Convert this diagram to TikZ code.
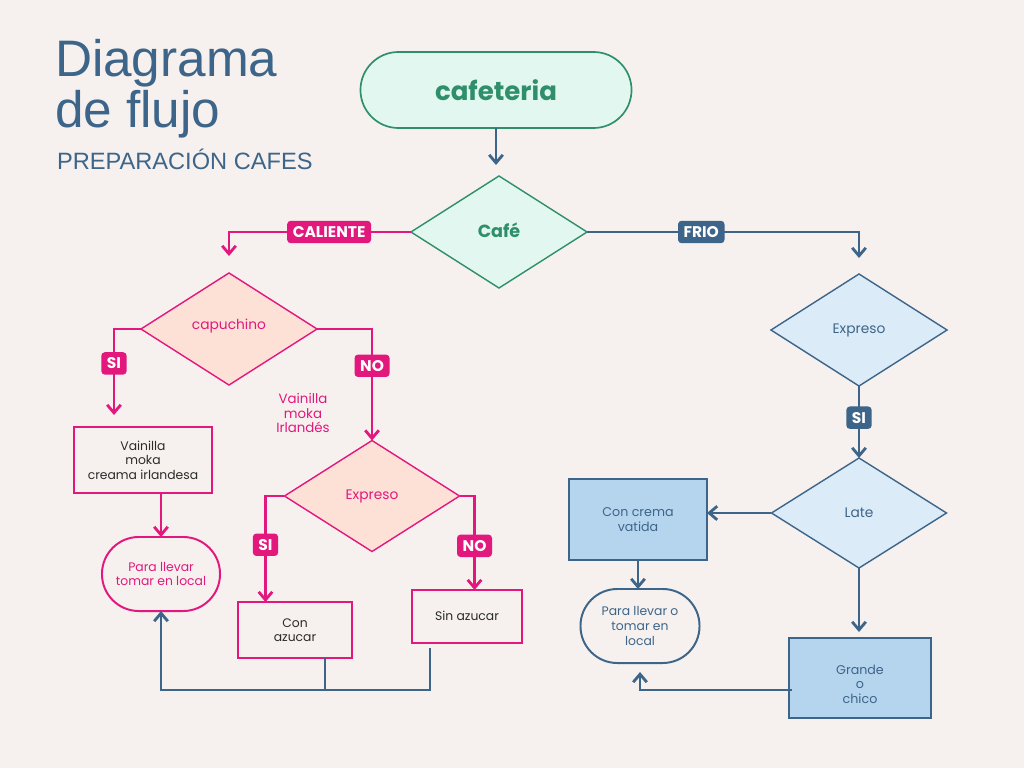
\documentclass[tikz,border=0pt]{standalone}
\usepackage{fontspec}
\setmainfont{Poppins}
\newfontfamily\titlefont{Liberation Sans}
\usetikzlibrary{arrows.meta,shapes.geometric}
\newcommand{\cmp}[2]{\begin{minipage}[h]{#1}\centering #2\end{minipage}}
\definecolor{paper}{HTML}{F6F1EE}
\definecolor{inkblue}{HTML}{3D6589}
\definecolor{hotpink}{HTML}{E2187D}
\definecolor{peach}{HTML}{FDE1D7}
\definecolor{mint}{HTML}{E2F7F0}
\definecolor{mintline}{HTML}{2E8F6A}
\definecolor{skyfill}{HTML}{DCEBF8}
\definecolor{boxblue}{HTML}{B5D4EE}
\definecolor{darktext}{HTML}{2B2B2B}

\begin{document}
\begin{tikzpicture}[x=0.025cm, y=-0.025cm,
  inner sep=0pt, outer sep=0pt,
  dia/.style={diamond, aspect=1.58, minimum width=4.4cm, minimum height=2.8cm, line width=1pt},
  pdia/.style={dia, draw=hotpink, fill=peach, text=hotpink, font=\fontsize{9.8}{11}\selectfont},
  bdia/.style={dia, draw=inkblue, fill=skyfill, text=inkblue, font=\fontsize{9.8}{11}\selectfont},
  pbox/.style={rectangle, draw=hotpink, line width=1.4pt, fill=paper, text=darktext, font=\fontsize{8.8}{10.4}\selectfont},
  bbox/.style={rectangle, draw=inkblue, line width=1.4pt, fill=boxblue, text=inkblue, font=\fontsize{9}{10.4}\selectfont},
  term/.style={rectangle, rounded corners=0.92cm, line width=1.4pt, fill=paper, minimum width=2.95cm, minimum height=1.85cm, font=\fontsize{8.8}{10.4}\selectfont},
  plab/.style={fill=hotpink, text=white, rounded corners=2.5pt, font=\fontsize{11}{11}\selectfont\bfseries, inner xsep=4pt, minimum height=0.56cm},
  blab/.style={plab, fill=inkblue},
  parr/.style={hotpink, line width=2pt, -{Straight Barb[length=2mm,width=3.4mm,line width=2pt]}},
  barr/.style={inkblue, line width=2pt, -{Straight Barb[length=2mm,width=3.4mm,line width=2pt]}},
  bline/.style={inkblue, line width=2pt},
  ]

\fill[paper] (0,0) rectangle (1024,768);
\useasboundingbox (0,0) rectangle (1024,768);

% title
\path (55,77) node[anchor=base west, text=inkblue, font=\titlefont\fontsize{36.5}{36}\selectfont](t1){Diagrama};
\path (55,128) node[anchor=base west, text=inkblue, font=\titlefont\fontsize{36.5}{36}\selectfont](t2){de flujo};
\path (57,170) node[anchor=base west, text=inkblue, font=\titlefont\fontsize{16.8}{17}\selectfont](t3){PREPARACIÓN CAFES};

% top
\path (496,90) node[rectangle, rounded corners=0.95cm, draw=mintline, line width=1.2pt, fill=mint, minimum width=6.775cm, minimum height=1.9cm, text=mintline, font=\fontsize{18.5}{18}\selectfont\bfseries](caf){cafeteria};
\path (499,232) node[dia, draw=mintline, fill=mint, text=mintline, font=\fontsize{12.5}{12}\selectfont\bfseries](cafe){\raisebox{1mm}{Café}};

% hot branch
\path (229,329) node[pdia](capu){\raisebox{2.5mm}{capuchino}};
\path (143,460) node[pbox, minimum width=3.45cm, minimum height=1.65cm](vain){\cmp{3.3cm}{Vainilla\\moka\\creama irlandesa}};
\path (161,574) node[term, draw=hotpink, text=hotpink](terml){\cmp{2.8cm}{Para llevar\\tomar en local}};
\path (303,413) node[text=hotpink, font=\fontsize{9.5}{10.2}\selectfont](extra){\cmp{2cm}{Vainilla\\moka\\Irlandés}};
\path (372,496) node[pdia, minimum width=4.375cm, minimum height=2.775cm](expp){Expreso};
\path (295,630) node[pbox, minimum width=2.85cm, minimum height=1.4cm](conaz){\cmp{2.6cm}{Con\\azucar}};
\path (467,616.5) node[pbox, minimum width=2.75cm, minimum height=1.325cm](sinaz){\raisebox{0.5mm}{Sin azucar}};

% cold branch
\path (859,330) node[bdia](expb){Expreso};
\path (859,513) node[bdia, minimum width=4.375cm, minimum height=2.75cm](late){Late};
\path (638,519.5) node[bbox, minimum width=3.45cm, minimum height=2.025cm](crema){\raisebox{2mm}{\cmp{3cm}{Con crema\\vatida}}};
\path (640,626) node[term, draw=inkblue, text=inkblue, minimum width=2.975cm](termr){\cmp{2.8cm}{Para llevar o\\tomar en\\local}};
\path (860,678) node[bbox, minimum width=3.55cm, minimum height=2cm](grande){\raisebox{-2.3mm}[0pt][0pt]{\cmp{3cm}{Grande\\o\\chico}}};

% connectors
\draw[barr] (caf.south) -- ++(0,37);
\draw[parr] (cafe.west) -- node[plab, pos=.45]{CALIENTE} (cafe.west -| capu) -- ++(0,24);
\draw[barr] (cafe.east) -- node[blab, pos=.42]{FRIO} (cafe.east -| expb) -- ++(0,26);

\draw[parr] (capu.west) -- ++(-27,0) coordinate(s1) -- node[plab, pos=.4]{SI} (s1 |- 0,415);
\draw[parr] (capu.east) -- ++(55,0) coordinate(n1) -- node[plab, pos=.33]{NO} (n1 |- expp.north);
\draw[parr] (vain.south -| terml) -- (terml.north);

\draw[parr] (expp.west) -- ++(-19,0) coordinate(s2) -- node[plab, pos=.46]{SI} (s2 |- conaz.north);
\draw[parr] (expp.east) -- ++(15,0) coordinate(n2) -- node[plab, pos=.53]{NO} (n2 |- sinaz.north);

\draw[bline] (conaz.south) ++(30,0) -- ++(0,32);
\path (sinaz.south west) ++(18,5) coordinate(q1);
\draw[barr] (q1) -- ++(0,42) -| (terml.south);

\draw[barr] (expb.south) -- node[blab, pos=.44]{SI} (late.north);
\draw[barr] (late.west) -- (late.west -| crema.east);
\draw[barr] (crema.south) -- (crema.south |- termr.north);
\draw[barr] (late.south) -- ++(0,64);
\path (grande.west) ++(3,12) coordinate(g1);
\path (termr.south) ++(0,9) coordinate(t4);
\draw[barr] (g1) -| (t4);

\end{tikzpicture}
\end{document}
